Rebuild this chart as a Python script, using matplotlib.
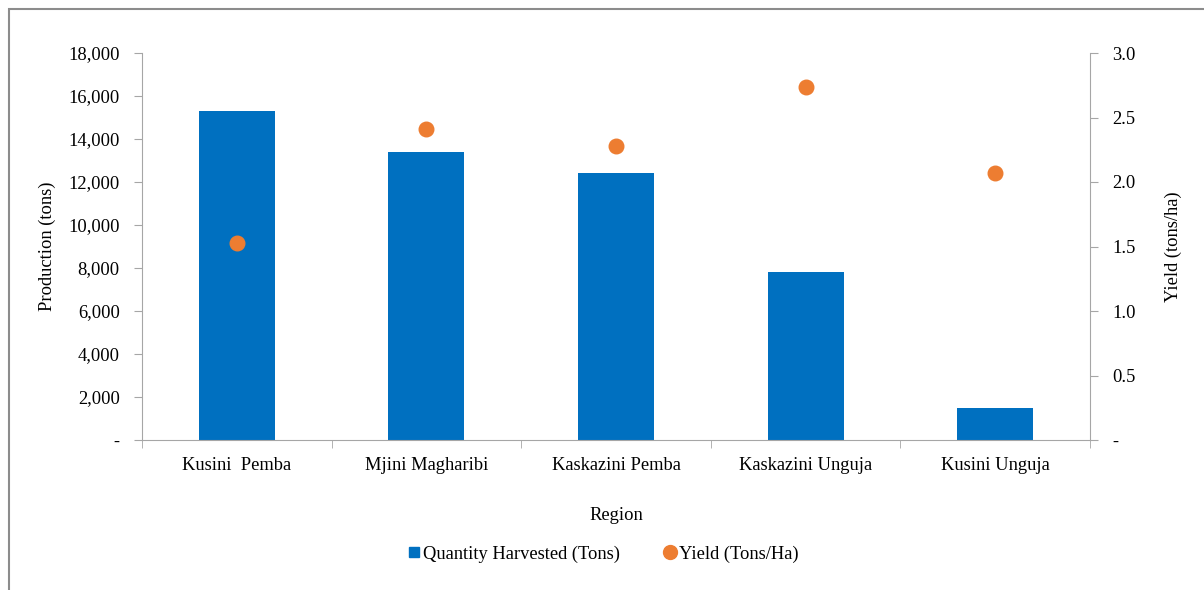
import matplotlib.pyplot as plt
from matplotlib.lines import Line2D
from matplotlib.patches import Rectangle
from matplotlib.ticker import FuncFormatter

regions = ["Kusini  Pemba", "Mjini Magharibi", "Kaskazini Pemba", "Kaskazini Unguja", "Kusini Unguja"]
quantity = [15300, 13400, 12400, 7800, 1500]
yield_vals = [1.53, 2.41, 2.28, 2.74, 2.07]

blue = "#0070C0"
orange = "#ED7D31"
grey = "#A6A6A6"

plt.rcParams["font.family"] = ["Liberation Serif", "DejaVu Serif"]
plt.rcParams["font.size"] = 13.3

fig = plt.figure(figsize=(12.04, 5.9), dpi=100)
ax = fig.add_axes([142 / 1204, 1 - 440 / 590, 948 / 1204, 387 / 590])
ax2 = ax.twinx()

x = list(range(len(regions)))
ax.bar(x, quantity, width=0.4, color=blue, zorder=2)
ax2.scatter(x, yield_vals, s=110, color=orange, zorder=3)

ax.set_xlim(-0.5, len(regions) - 0.5)
ax.set_ylim(0, 18000)
ax.set_yticks(range(0, 18001, 2000))
ax.yaxis.set_major_formatter(FuncFormatter(lambda v, p: "-" if v == 0 else f"{v:,.0f}"))
ax2.set_ylim(0, 3.0)
ax2.set_yticks([0, 0.5, 1.0, 1.5, 2.0, 2.5, 3.0])
ax2.yaxis.set_major_formatter(FuncFormatter(lambda v, p: "-" if v == 0 else f"{v:.1f}"))

ax.set_xticks(x)
ax.set_xticklabels(regions)
ax.set_xticks([i - 0.5 for i in range(len(regions) + 1)], minor=True)
ax.tick_params(axis="x", which="major", length=0, pad=12)
ax.tick_params(axis="x", which="minor", length=6, color=grey)
ax.tick_params(axis="y", length=6, color=grey, pad=10)
ax2.tick_params(axis="y", length=6, color=grey, pad=10)

for a in (ax, ax2):
    a.spines["top"].set_visible(False)
    for s in ("left", "right", "bottom"):
        a.spines[s].set_color(grey)
ax.spines["right"].set_visible(False)
ax2.spines["left"].set_visible(False)
ax2.spines["bottom"].set_visible(False)

ax.set_ylabel("Production (tons)", labelpad=9)
ax2.set_ylabel("Yield (tons/ha)", labelpad=21)
ax.set_xlabel("Region", labelpad=24)

handles = [
    Line2D([], [], marker="s", linestyle="", color=blue, markersize=7),
    Line2D([], [], marker="o", linestyle="", color=orange, markersize=10),
]
fig.legend(handles, ["Quantity Harvested (Tons)", "Yield (Tons/Ha)"],
           loc="center", bbox_to_anchor=(0.5, 1 - 554 / 590), ncol=2,
           frameon=False, handletextpad=0.0, handlelength=1.0, columnspacing=2.2)

fig.patches.append(Rectangle((9 / 1204, -0.5), 2, 0.5 + 1 - 9 / 590,
                             transform=fig.transFigure, fill=False,
                             edgecolor="#8C8C8C", linewidth=1.5))

fig.savefig("out.png", dpi=100)
